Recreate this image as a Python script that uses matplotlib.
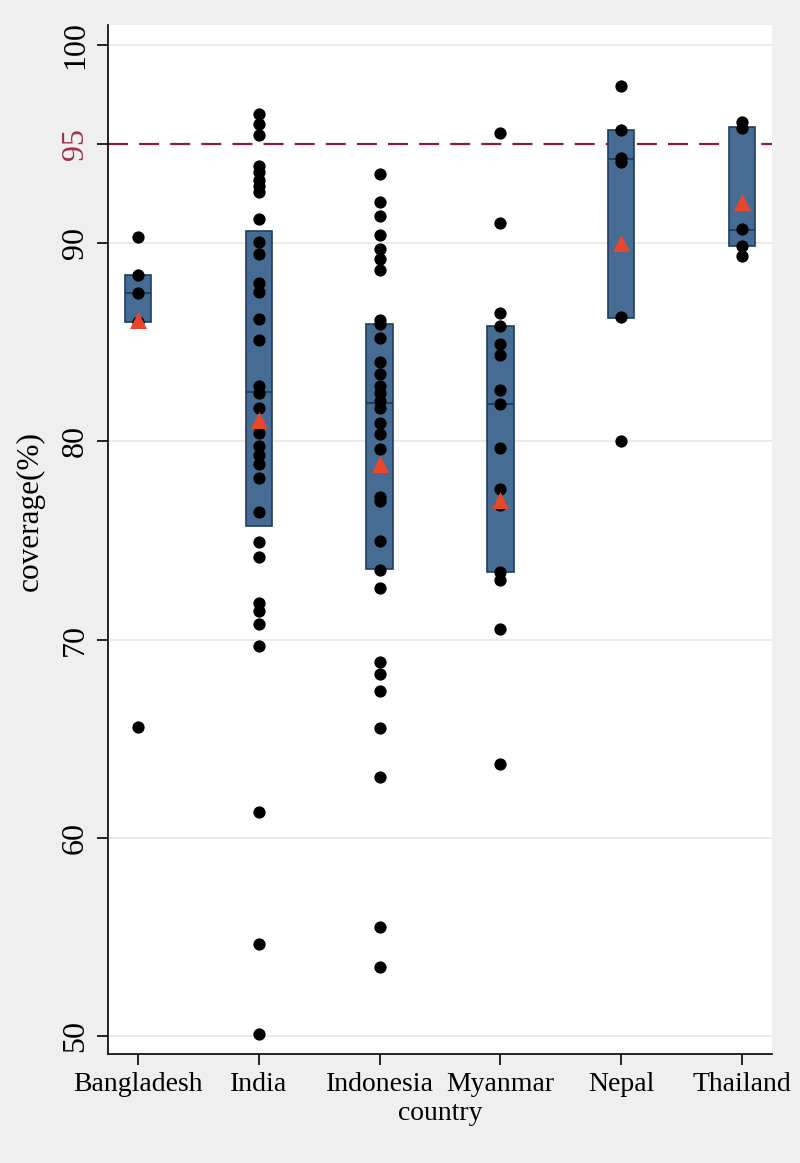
import numpy as np
import matplotlib
matplotlib.use('Agg')
import matplotlib.pyplot as plt

plt.rcParams['font.family'] = ['Liberation Serif', 'DejaVu Serif']

countries = ['Bangladesh', 'India', 'Indonesia', 'Myanmar', 'Nepal', 'Thailand']

# coverage values per country
bangladesh = [90.3, 88.4, 87.5, 86.0, 65.6]
india = [96.5, 96.0, 95.45, 93.9, 93.6, 93.2, 92.9, 92.6, 91.2, 90.05, 89.45,
         88.0, 87.55, 86.2, 85.1, 82.8, 82.45, 81.7, 80.45, 79.75, 79.3, 78.85,
         78.15, 76.45, 74.95, 74.15, 71.85, 71.45, 70.8, 69.7, 61.3, 54.65, 50.1]
indonesia = [93.5, 92.1, 91.35, 90.4, 89.7, 89.2, 88.65, 86.1, 85.9, 85.2, 84.0,
             83.4, 82.8, 82.45, 82.05, 81.7, 80.95, 80.4, 79.6, 77.2, 77.0, 75.0,
             73.5, 72.6, 68.9, 68.3, 67.4, 65.55, 63.1, 55.5, 53.5]
myanmar = [95.55, 91.0, 86.5, 85.8, 84.9, 84.35, 82.6, 81.9, 79.65, 77.6, 76.8,
           73.4, 73.0, 70.55, 63.75]
nepal = [97.9, 95.7, 94.3, 94.1, 86.3, 80.0]
thailand = [96.1, 95.8, 90.7, 89.85, 89.35]

# box (25th - 75th pct), median and mean per country
q1 = [86.0, 75.75, 73.55, 73.4, 86.25, 89.85]
med = [87.5, 82.5, 81.95, 81.9, 94.25, 90.65]
q3 = [88.4, 90.6, 85.9, 85.8, 95.7, 95.85]
means = [86.1, 81.1, 78.85, 77.05, 90.0, 92.05]

target = 95
yticks = [50, 60, 70, 80, 90, 95, 100]

groups = [bangladesh, india, indonesia, myanmar, nepal, thailand]
pos = np.arange(len(countries))

fig = plt.figure(figsize=(8, 11.63), dpi=100, facecolor='#efefef')
ax = fig.add_axes([0.135, 0.094, 0.83, 0.8845])
ax.set_facecolor('white')

for y in [50, 60, 70, 80, 90, 100]:
    ax.axhline(y, color='#e6e6e6', lw=1.2, zorder=0)

ax.axhline(target, color='#8c1c34', lw=1.6, dashes=(9, 5), zorder=0.5)

ax.bar(pos, np.array(q3) - np.array(q1), bottom=q1, width=0.22,
       color='#476c94', edgecolor='#1f3d5e', lw=1.2, zorder=1)
ax.hlines(med, pos - 0.11, pos + 0.11, color='#1f3d5e', lw=1.3, zorder=2)

for i, g in enumerate(groups):
    ax.scatter(np.full(len(g), pos[i]), g, s=78, color='black', zorder=3, lw=0)

ax.scatter(pos, means, marker='^', s=150, color='#e8472b', zorder=4, lw=0)

ax.set_xlim(-0.25, 5.25)
ax.set_ylim(49.13, 101.0)

ax.set_xticks(pos)
ax.set_xticklabels(countries, fontsize=20)
ax.set_yticks(yticks)
ax.set_yticklabels([str(t) for t in yticks], fontsize=23, rotation=90, va='center')
ax.get_yticklabels()[5].set_color('#a0304a')
ax.tick_params(axis='y', length=8, width=1.2, pad=5)
ax.tick_params(axis='x', length=8, width=1.2, pad=5)
ax.yaxis.get_major_ticks()[5].tick1line.set_color('#a0304a')

ax.set_xlabel('country', fontsize=20, labelpad=3)
ax.set_ylabel('coverage(%)', fontsize=22.5)
ax.yaxis.set_label_coords(-0.095, 0.528)

for s in ['top', 'right']:
    ax.spines[s].set_visible(False)
for s in ['left', 'bottom']:
    ax.spines[s].set_linewidth(1.2)

fig.savefig('out.png', dpi=100, facecolor=fig.get_facecolor())
